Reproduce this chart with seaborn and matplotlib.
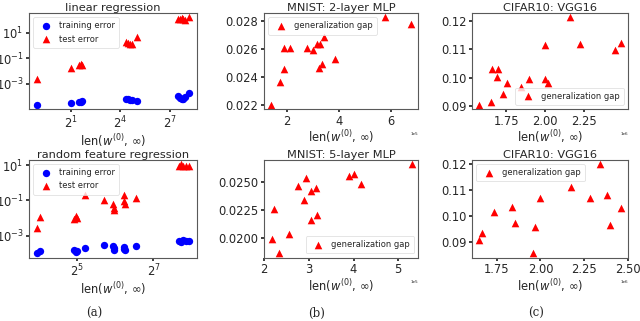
import matplotlib
matplotlib.use("Agg")
import matplotlib.pyplot as plt
from matplotlib.ticker import NullLocator
import seaborn as sns

# =========================
# DATA
# =========================
# (a) top: linear regression
lin_x = [0.486, 2.0, 2.848, 3.053, 3.272, 20.39, 21.86, 23.43, 25.99, 31.56,
         177.3, 190.0, 203.7, 219.8, 235.6, 282.1]
lin_train = [2.40e-5, 3.24e-5, 3.55e-5, 4.17e-5, 4.68e-5, 7.08e-5, 6.17e-5, 5.50e-5,
             5.25e-5, 4.68e-5, 1.12e-4, 8.32e-5, 6.31e-5, 7.08e-5, 8.91e-5, 1.82e-4]
lin_test = [0.00257, 0.0170, 0.0302, 0.0347, 0.0316, 1.905, 1.622, 1.413, 1.259, 4.677,
            125.9, 112.2, 141.3, 120.2, 104.7, 162.2]

# (a) bottom: random feature regression
rf_x = [15.35, 16.34, 30.07, 31.34, 32.0, 37.27, 51.98, 61.82, 62.25, 62.68,
        75.06, 75.58, 76.11, 93.70, 205.1, 210.8, 219.8, 230.7, 245.6]
rf_train = [1.0e-4, 1.23e-4, 1.55e-4, 1.20e-4, 1.35e-4, 1.91e-4, 2.95e-4, 2.40e-4, 1.91e-4,
            1.55e-4, 2.29e-4, 1.82e-4, 1.55e-4, 2.40e-4, 5.01e-4, 4.37e-4, 5.25e-4,
            4.57e-4, 5.01e-4]
rf_test = [0.00263, 0.0115, 0.00832, 0.0129, 0.0105, 0.204, 0.100, 0.0589, 0.0380, 0.0269,
           0.204, 0.0912, 0.0589, 0.132, 8.91, 11.22, 9.55, 9.12, 9.33]

# (b) top: MNIST 2-layer MLP
mlp2_x = [1.40e5, 1.75e5, 1.89e5, 1.91e5, 2.13e5, 2.78e5, 3.02e5, 3.15e5, 3.28e5, 3.44e5,
          3.22e5, 3.35e5, 3.83e5, 5.74e5, 6.77e5]
mlp2_gap = [0.02205, 0.02368, 0.02457, 0.02609, 0.02609, 0.02606, 0.02595, 0.02637,
            0.02637, 0.02686, 0.02469, 0.02492, 0.02532, 0.02826, 0.02779]

# (b) bottom: MNIST 5-layer MLP
mlp5_x = [2.18e5, 2.33e5, 2.22e5, 2.56e5, 2.76e5, 2.88e5, 2.94e5, 3.04e5, 3.05e5, 3.16e5,
          3.18e5, 3.89e5, 4.02e5, 4.17e5, 5.30e5]
mlp5_gap = [0.01991, 0.01870, 0.02261, 0.02039, 0.02464, 0.02344, 0.02539, 0.02419,
            0.02164, 0.02449, 0.02207, 0.02554, 0.02575, 0.02486, 0.02659]

# (c) top: CIFAR10 VGG16
vgg_a_x = [1.573e6, 1.649e6, 1.659e6, 1.696e6, 1.692e6, 1.728e6, 1.752e6, 1.847e6,
           1.897e6, 1.998e6, 2.020e6, 1.998e6, 2.160e6, 2.227e6, 2.452e6, 2.491e6]
vgg_a_gap = [0.0905, 0.0914, 0.1032, 0.1032, 0.1003, 0.0941, 0.0980, 0.0968, 0.0997,
             0.0997, 0.0980, 0.1116, 0.1213, 0.1118, 0.1098, 0.1122]

# (c) bottom: CIFAR10 VGG16
vgg_b_x = [1.649e6, 1.666e6, 1.733e6, 1.837e6, 1.853e6, 1.958e6, 1.972e6, 2.000e6,
           2.177e6, 2.283e6, 2.344e6, 2.383e6, 2.396e6, 2.460e6]
vgg_b_gap = [0.0909, 0.0935, 0.1014, 0.1034, 0.0974, 0.0857, 0.0958, 0.1069, 0.1110,
             0.1069, 0.1199, 0.1082, 0.0965, 0.1030]

# tick positions per panel
lin_xticks = [2, 16, 128]
rf_xticks = [32, 128]
log_yticks = [1e-3, 1e-1, 1e1]
mlp2_xticks = [2e5, 4e5, 6e5]
mlp5_xticks = [2e5, 3e5, 4e5, 5e5]
vgg_a_xticks = [1.75e6, 2.0e6, 2.25e6]
vgg_b_xticks = [1.75e6, 2.0e6, 2.25e6, 2.5e6]

XLABEL = r"len($w^{(0)}$, $\infty$)"
BLUE = "#0000ff"
RED = "#ff0000"

# =========================
# STYLE
# =========================
sns.set_theme(style="ticks")
plt.rcParams.update({
    "font.family": ["DejaVu Sans"],
    "axes.edgecolor": "0.35",
    "axes.linewidth": 0.8,
    "xtick.labelsize": 8.3,
    "ytick.labelsize": 8.3,
    "xtick.major.size": 2.5,
    "ytick.major.size": 2.5,
    "xtick.major.pad": 1.5,
    "ytick.major.pad": 1.5,
    "axes.labelsize": 8.3,
    "axes.labelpad": 0.5,
    "axes.titlesize": 8.2,
    "legend.fontsize": 6,
})

fig = plt.figure(figsize=(6.4, 3.21), dpi=100)

col_left = [0.0453, 0.4125, 0.7375]
col_width = [0.2625, 0.2414, 0.2438]
row_bottom = [0.6604, 0.1978]
row_height = [0.299, 0.3038]


def make_ax(r, c):
    return fig.add_axes([col_left[c], row_bottom[r], col_width[c], row_height[r]])


def finish(ax, title, legend_loc):
    ax.set_title(title, pad=1.5)
    ax.set_xlabel(XLABEL)
    ax.set_ylabel("")
    leg = ax.legend(loc=legend_loc, frameon=True, fancybox=True, framealpha=0.8,
                    handletextpad=0.6, borderpad=0.5, labelspacing=0.5)
    leg.get_frame().set_edgecolor("0.85")
    leg.get_frame().set_linewidth(0.6)


# =========================
# (a) REGRESSION PANELS
# =========================
for r, (xs, tr, te, title, xt) in enumerate([
        (lin_x, lin_train, lin_test, "linear regression", lin_xticks),
        (rf_x, rf_train, rf_test, "random feature regression", rf_xticks)]):
    ax = make_ax(r, 0)
    sns.scatterplot(x=xs, y=tr, ax=ax, color=BLUE, marker="o", s=28, linewidth=0,
                    label="training error")
    sns.scatterplot(x=xs, y=te, ax=ax, color=RED, marker="^", s=30, linewidth=0,
                    label="test error")
    ax.set_xscale("log", base=2)
    ax.set_yscale("log")
    ax.set_xticks(xt)
    ax.set_yticks(log_yticks)
    ax.xaxis.set_minor_locator(NullLocator())
    ax.yaxis.set_minor_locator(NullLocator())
    finish(ax, title, "upper left")

# =========================
# (b), (c) GENERALIZATION GAP PANELS
# =========================
panels = [
    (0, 1, mlp2_x, mlp2_gap, mlp2_xticks, "MNIST: 2-layer MLP", "upper left"),
    (1, 1, mlp5_x, mlp5_gap, mlp5_xticks, "MNIST: 5-layer MLP", "lower right"),
    (0, 2, vgg_a_x, vgg_a_gap, vgg_a_xticks, "CIFAR10: VGG16", "lower right"),
    (1, 2, vgg_b_x, vgg_b_gap, vgg_b_xticks, "CIFAR10: VGG16", "upper left"),
]
for r, c, xs, ys, xt, title, loc in panels:
    ax = make_ax(r, c)
    sns.scatterplot(x=xs, y=ys, ax=ax, color=RED, marker="^", s=30, linewidth=0,
                    label="generalization gap")
    lo, hi = ax.get_xlim()
    ax.set_xticks(xt)
    ax.set_xlim(min(lo, xt[0] - 0.002 * (hi - lo)) if r == 1 and c == 1 else lo,
                max(hi, xt[-1] + 0.002 * (hi - lo)) if r == 1 and c == 2 else hi)
    ax.ticklabel_format(axis="x", style="sci", scilimits=(0, 0), useMathText=False)
    ax.xaxis.get_offset_text().set_fontsize(3)
    finish(ax, title, loc)

# sub-figure captions
for x, lab in zip([0.147, 0.495, 0.838], ["(a)", "(b)", "(c)"]):
    fig.text(x, 0.025, lab, ha="center", va="center", fontsize=8.5,
             family="DejaVu Serif")

fig.savefig("out.png", dpi=100)
plt.close(fig)
